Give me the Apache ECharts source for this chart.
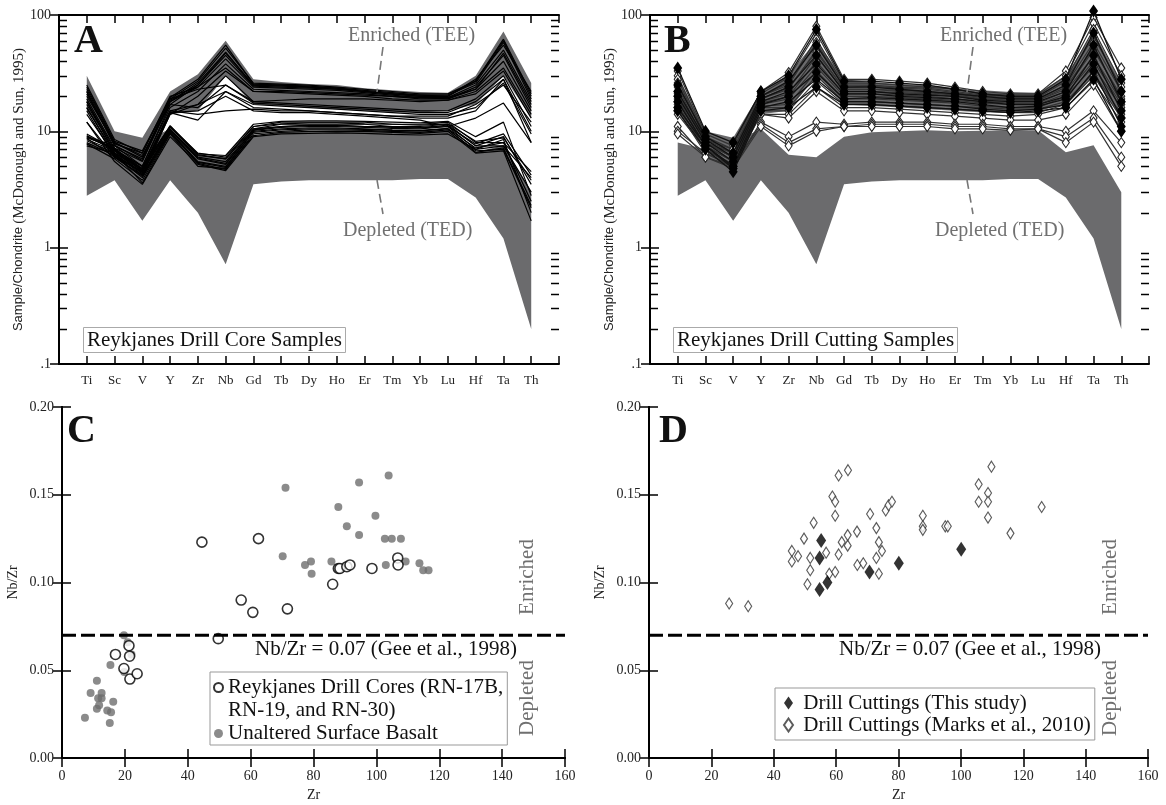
<!DOCTYPE html>
<html><head><meta charset="utf-8">
<script src="https://cdn.jsdelivr.net/npm/echarts@6/dist/echarts.min.js"></script>
<style>html,body{margin:0;padding:0;background:#fff}#chart{width:1166px;height:805px}</style>
</head><body><div id="chart"></div>
<script>
const SERIF = 'Liberation Serif';
const SANS = 'Liberation Sans';

// ---------- Panels A / B : spider diagrams ----------
const CATS = ['Ti','Sc','V','Y','Zr','Nb','Gd','Tb','Dy','Ho','Er','Tm','Yb','Lu','Hf','Ta','Th'];
const MINOR_TICKS = [0.2,0.3,0.4,0.5,0.6,0.7,0.8,0.9,2,3,4,5,6,7,8,9,20,30,40,50,60,70,80,90];

// gray reference fields
const TEE_UPPER = [30, 10, 8.8, 22, 31, 60, 28, 26.5, 25.5, 25, 23.5, 22.5, 21.8, 21.5, 30, 72, 26];
const TEE_LOWER = [15, 7.5, 5.8, 14, 15, 30, 17, 16.5, 16, 15.5, 15, 14.5, 14.5, 15, 17, 30, 13];
const TED_UPPER = [8, 7, 8, 10.5, 6.3, 6, 9, 9.8, 10, 10.2, 10, 10.1, 10.2, 10.2, 6.6, 7.6, 3];
const TED_LOWER = [2.8, 3.8, 1.7, 3.8, 2.0, 0.72, 3.5, 3.7, 3.8, 3.8, 3.8, 3.8, 3.9, 3.9, 2.7, 1.2, 0.2];

// Panel A: drill core samples
const CORE_ENRICHED = [
  [25, 8.5, 6.5, 19, 27, 52, 26, 25.5, 25, 24, 23, 22, 21, 21, 27, 62, 21],
  [23, 8, 6, 18, 26, 48, 25, 25, 24, 23.5, 22.5, 21.5, 20.5, 20.5, 26, 58, 19],
  [22, 7.5, 5.8, 19.5, 28, 55, 25.5, 25, 24.5, 23.5, 22, 21, 20.5, 20, 28, 55, 22],
  [20, 8, 6.2, 17, 25, 45, 24.5, 24, 23.5, 23, 22, 21, 20, 19.5, 25, 50, 18],
  [19, 7.2, 5.5, 18, 24, 42, 24, 23.5, 23, 22.5, 21.5, 20.5, 19.5, 19, 24, 45, 16],
  [18, 7, 5, 16, 22, 38, 23, 22.5, 22, 21.5, 21, 20, 19, 19, 23, 40, 15],
  [21, 7.8, 6.5, 20, 24, 35, 22, 21.5, 21, 20.5, 20, 19, 18.5, 18.5, 21, 33, 13],
  [16, 6.5, 4.6, 15, 17, 30, 18, 17.5, 17, 16.5, 16, 15.5, 15, 15, 19, 30, 11],
  [17, 6.8, 5, 17, 16, 25, 17.5, 17, 16.5, 16, 15.5, 15, 14.5, 14.5, 18, 28, 10],
  [15, 6, 4.5, 14.5, 12.5, 22, 17, 16.5, 16, 15.5, 15, 14.5, 14, 14, 16, 26, 9.5],
  [18, 6.5, 4.8, 15, 14, 15, 15.5, 15, 15, 14.5, 14, 13.5, 13.5, 13.5, 17, 25, 12],
  [24, 8.2, 6.8, 19, 23, 25, 18, 18.5, 19, 19, 19, 18.5, 18, 18.5, 22, 35, 14],
  [16, 6.2, 4.4, 14, 20, 33, 22, 22, 21.5, 21, 20.5, 20, 19.5, 19.5, 23, 47, 17],
  [22, 7.6, 5.6, 18.5, 25, 47, 25, 24.5, 24, 23, 22, 21, 20, 20, 27, 60, 20],
  [12, 6, 4.2, 14, 17, 22, 16, 15.5, 15, 14.5, 14, 13.5, 13, 13, 15, 28, 8],
  [14, 6.3, 4.5, 14.5, 15, 20, 15, 14.5, 14.5, 14, 13.5, 13, 12.5, 11, 13, 17.5, 8]
];
const CORE_DEPLETED = [
  [9, 7.5, 5, 11, 6.5, 6, 11, 12, 12, 12, 12, 11.5, 11.5, 12, 8, 8, 4.5],
  [9.5, 7, 4.8, 11, 6.2, 5.8, 10.5, 11.5, 11.5, 11.5, 11.5, 11, 11, 11.5, 7.5, 7.5, 4],
  [8.8, 7.2, 4.5, 10.5, 6, 5.5, 10.5, 11, 11.3, 11.3, 11, 11, 10.8, 11.2, 7.5, 9, 3.5],
  [8.5, 6.8, 4.3, 10.3, 5.8, 5.2, 10.2, 10.8, 11, 11, 10.8, 10.6, 10.5, 11, 7, 7.5, 3],
  [8.3, 6.5, 4.2, 10, 5.5, 5, 10, 10.5, 10.7, 10.7, 10.5, 10.3, 10.2, 10.6, 7.2, 8, 2.5],
  [8, 6.2, 4, 9.8, 5.3, 4.7, 9.5, 10, 10.3, 10.3, 10.2, 10, 9.8, 10.3, 6.8, 7, 2.2],
  [7.5, 6.5, 3.6, 9.5, 5, 4.8, 9.2, 9.8, 10, 10, 10, 9.8, 9.6, 10, 6.5, 6.8, 1.7],
  [12, 5.5, 3.5, 9, 5.2, 4.6, 9, 9.5, 9.6, 9.7, 9.6, 9.4, 9.3, 9.5, 7, 8.5, 2],
  [9.2, 6.8, 4.6, 10.8, 6.3, 5.8, 11, 11.6, 11.8, 11.8, 11.6, 11.5, 11.3, 11.6, 8.2, 8.8, 3.8],
  [8.7, 6, 4.1, 10.2, 5.9, 5.3, 10.3, 11, 11.2, 11.2, 11, 10.8, 10.7, 11, 7.8, 9.5, 4.2],
  [9, 7, 4.7, 11.2, 6.4, 6.2, 11.5, 12.2, 12.3, 12.3, 12.2, 12, 11.8, 12.2, 9, 12, 2.8],
  [7.8, 5.8, 3.8, 9.7, 5.4, 4.9, 9.8, 10.3, 10.5, 10.5, 10.4, 10.2, 10.1, 10.5, 6.6, 7.2, 2.3]
];

// Panel B: drill cutting samples
const CUT_THIS = [
  [35, 10, 8, 22, 30, 75, 27, 27, 26, 25, 23, 21, 20, 20, 28, 108, 28],
  [25, 9, 6.5, 20, 27, 55, 24, 24, 23, 22, 21, 20, 19, 19, 25, 70, 22],
  [22, 8.5, 6, 19, 24, 45, 22, 22, 21, 20.5, 20, 18.5, 18, 18, 22, 55, 18],
  [20, 8, 5.5, 18, 22, 38, 21, 21, 20, 19.5, 19, 18, 17, 17, 20, 45, 15],
  [18, 7.5, 5, 17, 20, 32, 19, 19.5, 19, 18.5, 18, 17, 16, 16.5, 19, 38, 13],
  [16, 7.5, 4.8, 16, 18, 28, 18, 18, 17.5, 17, 16.5, 15.5, 15, 15.5, 17, 33, 11],
  [15, 7, 4.5, 15, 16, 24, 17, 17, 16.5, 16, 15.5, 15, 14.5, 15, 16, 28, 10]
];
const CUT_MARKS = [
  [33, 9.5, 7.5, 22, 32, 80, 28, 28, 27, 26, 24, 22, 21, 21, 33, 95, 35],
  [30, 9, 7, 21, 29, 70, 26, 26, 25, 24, 23, 21, 20.5, 20.5, 30, 85, 30],
  [28, 8.5, 7, 20, 26, 62, 25, 25, 24, 23.5, 22, 20.5, 20, 20, 28, 75, 26],
  [26, 8.5, 6.5, 20, 25, 58, 24, 24.5, 23.5, 23, 21.5, 20, 19.5, 19.5, 27, 65, 24],
  [24, 8, 6.5, 19, 23, 50, 23, 23, 22.5, 22, 21, 19.5, 19, 19, 25, 58, 22],
  [22, 8, 6, 18, 21, 44, 22, 22, 21.5, 21, 20, 19, 18.5, 18.5, 23, 50, 20],
  [20, 8, 6, 17.5, 20, 40, 21, 21, 20.5, 20, 19, 18, 17.5, 17.5, 22, 44, 18],
  [19, 7.5, 5.5, 17, 19, 36, 20, 20, 19.5, 19, 18.5, 17.5, 17, 17, 21, 40, 17],
  [18, 7.5, 5.5, 16.5, 17, 33, 19, 19, 18.5, 18, 17.5, 16.5, 16, 16, 20, 36, 16],
  [17, 7, 5.2, 16, 16, 30, 18, 18, 17.5, 17, 16.5, 16, 15.5, 15.5, 18, 32, 14],
  [16, 7, 5, 15, 15, 27, 17, 17, 16.5, 16, 15.5, 15, 14.5, 14.5, 17, 30, 13],
  [15, 6.5, 5, 14, 14, 24, 16, 16, 15.5, 15, 14.5, 14, 13.5, 14, 16, 27, 12],
  [21, 8, 6, 19, 24, 48, 23, 23, 22, 21.5, 20.5, 19, 18.5, 18.5, 24, 52, 19],
  [14, 7, 5, 14, 13, 22, 15, 15, 14.5, 14, 13.5, 13, 12.5, 12.5, 14, 25, 10],
  [11, 6, 5, 12, 9, 12, 11.5, 12, 12, 12, 11.5, 11.5, 11, 11, 10, 15, 8],
  [10, 6.5, 5, 11.5, 8, 10.5, 11, 11.5, 11.5, 11.5, 11, 11, 10.5, 10.5, 9, 13, 6],
  [9.5, 6, 4.8, 11, 7.5, 10, 11, 11, 11, 11, 10.5, 10.5, 10.2, 10.5, 8, 12, 5]
];

// ---------- Panels C / D : Nb/Zr vs Zr ----------
const GEE_RATIO = 0.07;
const C_CORES = [[44.5,0.123],[62.5,0.125],[57,0.090],[60.7,0.083],[71.7,0.085],[49.7,0.068],[86.1,0.099],[87.9,0.108],[88.4,0.108],[90.6,0.109],[91.6,0.110],[98.6,0.108],[106.8,0.114],[106.9,0.110],[17,0.059],[19.7,0.051],[21.3,0.064],[21.5,0.058],[21.6,0.045],[23.9,0.048]];
const C_BASALT = [[71.1,0.154],[94.5,0.157],[103.9,0.161],[87.9,0.143],[99.7,0.138],[90.6,0.132],[94.5,0.127],[102.7,0.125],[104.9,0.125],[107.8,0.125],[70.2,0.115],[79.2,0.112],[77.3,0.110],[79.4,0.105],[85.7,0.112],[103,0.110],[109.3,0.112],[113.7,0.111],[114.9,0.107],[116.6,0.107],[19.7,0.070],[20.9,0.066],[22.1,0.059],[15.4,0.053],[19.8,0.049],[11.1,0.044],[9.1,0.037],[12.6,0.037],[11.5,0.034],[12.6,0.034],[16.3,0.032],[11.1,0.028],[14.4,0.027],[15.6,0.026],[7.3,0.023],[15.2,0.020],[11.8,0.030]];
const D_THIS = [[55.2,0.124],[54.7,0.114],[54.7,0.096],[57.2,0.100],[70.7,0.106],[80.1,0.111],[100.1,0.119]];
const D_MARKS = [[25.7,0.088],[31.8,0.0865],[45.8,0.118],[45.8,0.112],[47.8,0.115],[49.7,0.125],[52.8,0.134],[51.7,0.114],[51.7,0.107],[50.8,0.099],[56.8,0.117],[57.8,0.105],[59.7,0.106],[60.8,0.116],[61.8,0.123],[63.7,0.121],[63.7,0.127],[66.7,0.129],[66.8,0.110],[68.7,0.111],[58.8,0.149],[59.7,0.146],[59.7,0.138],[60.8,0.161],[63.8,0.164],[70.9,0.139],[72.9,0.131],[72.9,0.114],[73.7,0.123],[73.7,0.105],[74.7,0.118],[75.9,0.141],[76.8,0.144],[77.9,0.146],[87.8,0.138],[87.8,0.132],[87.8,0.130],[95,0.132],[95.8,0.132],[105.7,0.156],[105.7,0.146],[108.7,0.151],[108.7,0.146],[108.7,0.137],[109.8,0.166],[115.9,0.128],[125.9,0.143]];

const N_CORES = 'Reykjanes Drill Cores (RN-17B,';
const N_CORES2 = 'RN-19, and RN-30)';
const N_BASALT = 'Unaltered Surface Basalt';
const N_THIS = 'Drill Cuttings (This study)';
const N_MARKS = 'Drill Cuttings (Marks et al., 2010)';

// ---------- helpers ----------
const AX_LINE = {lineStyle:{color:'#000', width:2}};
function xSpider(g, pos){
  return {type:'value', gridIndex:g, position:pos, min:0, max:18, interval:1,
    axisLine:AX_LINE, axisTick:{inside:true, length:8, lineStyle:{color:'#000', width:1.5}},
    axisLabel:{show:pos==='bottom', formatter:v=>CATS[v-1]||'', fontFamily:SERIF, fontSize:13, color:'#222', margin:10},
    splitLine:{show:false}};
}
function ySpider(g, pos){
  const o = {type:'log', logBase:10, gridIndex:g, position:pos, min:0.1, max:100,
    axisLine:AX_LINE, axisTick:{inside:true, length:9, lineStyle:{color:'#000', width:1.5}},
    axisLabel:{show:pos==='left', formatter:v=>Math.abs(v-0.1)<1e-9?'.1':String(Math.round(v)), fontFamily:SERIF, fontSize:14, color:'#222', margin:8},
    splitLine:{show:false}};
  if (pos==='left') {
    o.name = '{s|Sample/Chondrite} {t|(McDonough and Sun, 1995)}';
    o.nameLocation = 'middle'; o.nameGap = 30;
    o.nameTextStyle = {rich:{s:{fontFamily:SANS, fontSize:13, color:'#222'}, t:{fontFamily:SERIF, fontSize:15, color:'#222'}}};
  }
  return o;
}
function xScat(g, pos){
  const o = {type:'value', gridIndex:g, position:pos, min:0, max:160, interval:20,
    axisLine:AX_LINE, axisTick:{inside:true, length:9, lineStyle:{color:'#000', width:1.5}},
    axisLabel:{show:pos==='bottom', fontFamily:SERIF, fontSize:14, color:'#222', margin:11},
    splitLine:{show:false}};
  if (pos==='bottom'){ o.name='Zr'; o.nameLocation='middle'; o.nameGap=30; o.nameTextStyle={fontFamily:SERIF, fontSize:14, color:'#222'}; }
  return o;
}
function yScat(g, pos){
  const o = {type:'value', gridIndex:g, position:pos, min:0, max:0.2, interval:0.05,
    axisLine:AX_LINE, axisTick:{inside:true, length:9, lineStyle:{color:'#000', width:1.5}},
    axisLabel:{show:pos==='left', formatter:v=>v.toFixed(2), fontFamily:SERIF, fontSize:14, color:'#222', margin:8},
    splitLine:{show:false}};
  if (pos==='left'){ o.name='Nb/Zr'; o.nameLocation='middle'; o.nameGap=42; o.nameTextStyle={fontFamily:SERIF, fontSize:14, color:'#222'}; }
  return o;
}
function fieldSeries(ax, upper, lower, color){
  return {type:'custom', xAxisIndex:ax, yAxisIndex:ax, silent:true, z:1, data:[[1, upper[0]]],
    renderItem:function(params, api){
      const pts = [];
      for (let i=0;i<upper.length;i++) pts.push(api.coord([i+1, upper[i]]));
      for (let i=lower.length-1;i>=0;i--) pts.push(api.coord([i+1, lower[i]]));
      return {type:'polygon', shape:{points:pts}, style:{fill:color}};
    }};
}
function minorTickSeries(ax){
  return {type:'custom', xAxisIndex:ax, yAxisIndex:ax, silent:true, z:10, clip:false,
    data:MINOR_TICKS.map(v=>[0, v]),
    renderItem:function(params, api){
      const cs = params.coordSys;
      const p = api.coord([0, api.value(1)]);
      const y = Math.round(p[1]) + 0.5;
      const st = {stroke:'#000', lineWidth:1.5};
      return {type:'group', children:[
        {type:'line', shape:{x1:cs.x, y1:y, x2:cs.x+8, y2:y}, style:st},
        {type:'line', shape:{x1:cs.x+cs.width, y1:y, x2:cs.x+cs.width-8, y2:y}, style:st}
      ]};
    }};
}
const toXY = vals => vals.map((v,i)=>[i+1, v]);
const FIELD = '#6b6b6d';

const series = [];
// Panel A
series.push(fieldSeries(0, TEE_UPPER, TEE_LOWER, FIELD));
series.push(fieldSeries(0, TED_UPPER, TED_LOWER, FIELD));
CORE_ENRICHED.concat(CORE_DEPLETED).forEach(r=>series.push({type:'line', xAxisIndex:0, yAxisIndex:0, silent:true, z:3,
  symbol:'none', data:toXY(r), lineStyle:{color:'#000', width:1.2}}));
series.push(minorTickSeries(0));
// Panel B
series.push(fieldSeries(2, TEE_UPPER, TEE_LOWER, FIELD));
series.push(fieldSeries(2, TED_UPPER, TED_LOWER, FIELD));
CUT_MARKS.forEach(r=>series.push({type:'line', xAxisIndex:2, yAxisIndex:2, silent:true, z:3,
  symbol:'diamond', symbolSize:[7,10], showSymbol:true, data:toXY(r),
  lineStyle:{color:'#333', width:1.2}, itemStyle:{color:'#fff', borderColor:'#222', borderWidth:1.1}}));
CUT_THIS.forEach(r=>series.push({type:'line', xAxisIndex:2, yAxisIndex:2, silent:true, z:4, clip:false,
  symbol:'diamond', symbolSize:[9,13], showSymbol:true, data:toXY(r),
  lineStyle:{color:'#111', width:1.3}, itemStyle:{color:'#000'}}));
series.push(minorTickSeries(2));
// Panel C
series.push({type:'scatter', name:N_BASALT, xAxisIndex:4, yAxisIndex:4, data:C_BASALT, symbol:'circle', symbolSize:8, itemStyle:{color:'#6e6e6e'}, z:3});
series.push({type:'scatter', name:N_CORES, xAxisIndex:4, yAxisIndex:4, data:C_CORES, symbol:'circle', symbolSize:10, itemStyle:{color:'#fff', borderColor:'#000', borderWidth:1.6}, z:4});
series.push({type:'scatter', name:N_CORES2, xAxisIndex:4, yAxisIndex:4, data:[]});
series.push({type:'line', xAxisIndex:4, yAxisIndex:4, data:[[0,GEE_RATIO],[160,GEE_RATIO]], symbol:'none', silent:true, z:5,
  lineStyle:{color:'#000', width:3, type:[14,5]}});
// Panel D
series.push({type:'scatter', name:N_MARKS, xAxisIndex:6, yAxisIndex:6, data:D_MARKS, symbol:'diamond', symbolSize:[7,11], itemStyle:{color:'#fff', borderColor:'#333', borderWidth:1.2}, z:3});
series.push({type:'scatter', name:N_THIS, xAxisIndex:6, yAxisIndex:6, data:D_THIS, symbol:'diamond', symbolSize:[10,15], itemStyle:{color:'#000'}, z:4});
series.push({type:'line', xAxisIndex:6, yAxisIndex:6, data:[[0,GEE_RATIO],[160,GEE_RATIO]], symbol:'none', silent:true, z:5,
  lineStyle:{color:'#000', width:3, type:[14,5]}});

const GRAY_TXT = '#707070';
function txt(x, y, text, size, opts){
  return Object.assign({type:'text', x:x, y:y, z:50, style:Object.assign({text:text, font:size+'px "'+SERIF+'"', fill:GRAY_TXT, align:'left', verticalAlign:'middle'}, opts||{})});
}
function letter(x, y, t){ return {type:'text', x:x, y:y, z:50, style:{text:t, font:'bold 40px "'+SERIF+'"', fill:'#111', align:'left', verticalAlign:'middle'}}; }
function dash(x1,y1,x2,y2){ return {type:'line', z:50, shape:{x1,y1,x2,y2}, style:{stroke:'#777', lineWidth:1.6, lineDash:[9,5]}}; }

const graphic = [
  letter(74, 42, 'A'), letter(664, 42, 'B'), letter(67, 432, 'C'), letter(659, 432, 'D'),
  txt(348, 36, 'Enriched (TEE)', 20), txt(343, 231, 'Depleted (TED)', 20),
  dash(383, 47, 377, 92), dash(377, 180, 383, 214),
  txt(940, 36, 'Enriched (TEE)', 20), txt(935, 231, 'Depleted (TED)', 20),
  dash(973, 47, 967, 92), dash(967, 180, 973, 214),
  txt(255, 649, 'Nb/Zr = 0.07 (Gee et al., 1998)', 21, {fill:'#111'}),
  txt(839, 649, 'Nb/Zr = 0.07 (Gee et al., 1998)', 21, {fill:'#111'}),
  Object.assign(txt(527, 577, 'Enriched', 21, {align:'center'}), {rotation:Math.PI/2}),
  Object.assign(txt(527, 698, 'Depleted', 21, {align:'center'}), {rotation:Math.PI/2}),
  Object.assign(txt(1110, 577, 'Enriched', 21, {align:'center'}), {rotation:Math.PI/2}),
  Object.assign(txt(1110, 698, 'Depleted', 21, {align:'center'}), {rotation:Math.PI/2})
];

const boxTitle = (text, left) => ({text:text, left:left, top:327, padding:[2,4,2,4], borderColor:'#aaa', borderWidth:1, backgroundColor:'#fff',
  textStyle:{fontFamily:SERIF, fontSize:21, fontWeight:'normal', color:'#111', lineHeight:22}});

const option = {
  animation:false,
  backgroundColor:'#fff',
  title:[boxTitle('Reykjanes Drill Core Samples', 83), boxTitle('Reykjanes Drill Cutting Samples', 673)],
  grid:[
    {left:59, top:15, width:500, height:349},
    {left:650, top:15, width:499, height:349},
    {left:62, top:407, width:503, height:351},
    {left:649, top:407, width:499, height:351}
  ],
  xAxis:[xSpider(0,'bottom'), xSpider(0,'top'), xSpider(1,'bottom'), xSpider(1,'top'),
         xScat(2,'bottom'), xScat(2,'top'), xScat(3,'bottom'), xScat(3,'top')],
  yAxis:[ySpider(0,'left'), ySpider(0,'right'), ySpider(1,'left'), ySpider(1,'right'),
         yScat(2,'left'), yScat(2,'right'), yScat(3,'left'), yScat(3,'right')],
  legend:[
    {orient:'vertical', left:210, top:672, padding:[4,4,0,3], itemGap:0, itemWidth:9, itemHeight:9,
     borderColor:'#999', borderWidth:1, backgroundColor:'#fff', selectedMode:false,
     textStyle:{fontFamily:SERIF, fontSize:21, color:'#111', lineHeight:23},
     data:[{name:N_CORES}, {name:N_CORES2, icon:'none'}, {name:N_BASALT}]},
    {orient:'vertical', left:775, top:688, padding:[4,4,4,8], itemGap:0, itemWidth:9, itemHeight:13,
     borderColor:'#999', borderWidth:1, backgroundColor:'#fff', selectedMode:false,
     formatter:n=>' '+n,
     textStyle:{fontFamily:SERIF, fontSize:21, color:'#111', lineHeight:22},
     data:[N_THIS, N_MARKS]}
  ],
  graphic:graphic,
  series:series
};
const chart = echarts.init(document.getElementById('chart'), null, {renderer:'canvas'});
chart.setOption(option);
</script></body></html>
